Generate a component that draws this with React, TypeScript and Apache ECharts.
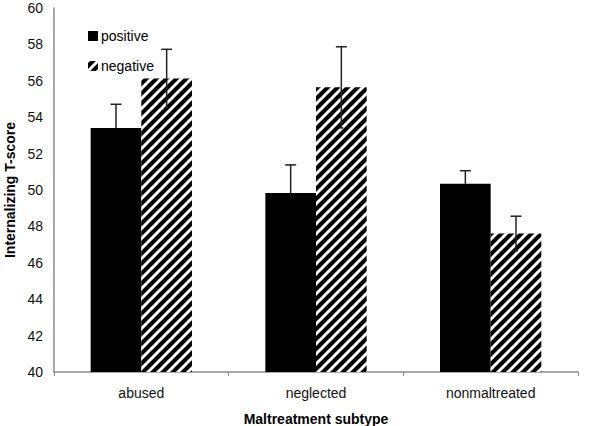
import React, { useEffect, useRef } from "react";
import * as echarts from "echarts";

const categories = ["abused", "neglected", "nonmaltreated"];
const positiveValues = [53.4, 49.83, 50.34];
const positiveErrors = [1.31, 1.55, 0.72];
const negativeValues = [56.13, 55.64, 47.61];
const negativeErrors = [1.6, 2.23, 0.95];
const seriesNames = ["positive", "negative"];
const yTicks = { min: 40, max: 60, interval: 2 };

function makeStripeTile(): HTMLCanvasElement {
  const c = document.createElement("canvas");
  const s = 10;
  c.width = s;
  c.height = s;
  const ctx = c.getContext("2d")!;
  ctx.fillStyle = "#000";
  ctx.fillRect(0, 0, s, s);
  ctx.strokeStyle = "#fff";
  ctx.lineWidth = 3;
  ctx.beginPath();
  ctx.moveTo(-2, s + 2);
  ctx.lineTo(s + 2, -2);
  ctx.moveTo(-2, 2);
  ctx.lineTo(2, -2);
  ctx.moveTo(s - 2, s + 2);
  ctx.lineTo(s + 2, s - 2);
  ctx.stroke();
  return c;
}

const CATEGORY_GAP = 0.42;

export default function App() {
  const ref = useRef<HTMLDivElement>(null);
  useEffect(() => {
    if (!ref.current) return;
    const chart = echarts.init(ref.current, undefined, { renderer: "svg" });
    const stripe = { image: makeStripeTile(), repeat: "repeat" } as any;
    const errData: number[][] = [];
    categories.forEach((_, i) => {
      errData.push([i, positiveValues[i], positiveErrors[i], -1]);
      errData.push([i, negativeValues[i], negativeErrors[i], 1]);
    });
    const font = "Liberation Sans, Arial, sans-serif";
    chart.setOption({
      animation: false,
      textStyle: { fontFamily: font },
      grid: { left: 54, right: 22, top: 8, bottom: 54, containLabel: false, outerBoundsMode: "none" },
      legend: {
        orient: "vertical",
        left: 83,
        top: 24,
        itemWidth: 10,
        itemHeight: 10,
        itemGap: 16,
        icon: "rect",
        data: seriesNames,
        textStyle: { fontSize: 14, color: "#000", fontFamily: font, padding: [0, 0, 0, -2] },
      },
      xAxis: {
        type: "category",
        data: categories,
        name: "Maltreatment subtype",
        nameLocation: "middle",
        nameGap: 40,
        nameTextStyle: { fontSize: 14, fontWeight: "bold", color: "#000", fontFamily: font },
        axisLine: { lineStyle: { color: "#8c8c8c", width: 1.5 } },
        axisTick: { show: true, length: 4, lineStyle: { color: "#8c8c8c" } },
        axisLabel: { fontSize: 14, color: "#111", margin: 14, fontFamily: font },
      },
      yAxis: {
        type: "value",
        min: yTicks.min,
        max: yTicks.max,
        interval: yTicks.interval,
        name: "Internalizing T-score",
        nameLocation: "middle",
        nameGap: 35,
        nameTextStyle: { fontSize: 14, fontWeight: "bold", color: "#000", fontFamily: font },
        axisLine: { show: true, lineStyle: { color: "#8c8c8c", width: 1.5 } },
        axisTick: { show: false },
        splitLine: { show: false },
        axisLabel: { fontSize: 14, color: "#111", margin: 11, fontFamily: font },
      },
      series: [
        {
          name: seriesNames[0],
          type: "bar",
          data: positiveValues,
          barGap: "0%",
          barCategoryGap: CATEGORY_GAP * 100 + "%",
          itemStyle: { color: "#000" },
        },
        {
          name: seriesNames[1],
          type: "bar",
          data: negativeValues,
          barGap: "0%",
          barCategoryGap: CATEGORY_GAP * 100 + "%",
          itemStyle: { color: stripe },
        },
        {
          type: "custom",
          name: "err",
          data: errData,
          z: 10,
          renderItem: (params: any, api: any) => {
            const ci = api.value(0);
            const v = api.value(1);
            const e = api.value(2);
            const side = api.value(3);
            const band = api.size([1, 0])[0];
            const barW = (band * (1 - CATEGORY_GAP)) / 2;
            const top = api.coord([ci, v + e]);
            const mid = api.coord([ci, v]);
            const bot = api.coord([ci, v - e]);
            const x = top[0] + (side * barW) / 2;
            const cap = 5.5;
            const style = { stroke: "#222", lineWidth: 1.5 };
            const children: any[] = [
              { type: "line", shape: { x1: x, y1: top[1], x2: x, y2: mid[1] }, style },
              { type: "line", shape: { x1: x - cap, y1: top[1], x2: x + cap, y2: top[1] }, style },
            ];
            if (side > 0) {
              children.push(
                { type: "line", shape: { x1: x, y1: mid[1], x2: x, y2: bot[1] }, style },
                { type: "line", shape: { x1: x - 2, y1: bot[1], x2: x + 2, y2: bot[1] }, style }
              );
            }
            return { type: "group", children };
          },
        },
      ],
    });
    return () => chart.dispose();
  }, []);
  return <div ref={ref} style={{ width: 600, height: 426, position: "absolute", left: 0, top: 0 }} />;
}
